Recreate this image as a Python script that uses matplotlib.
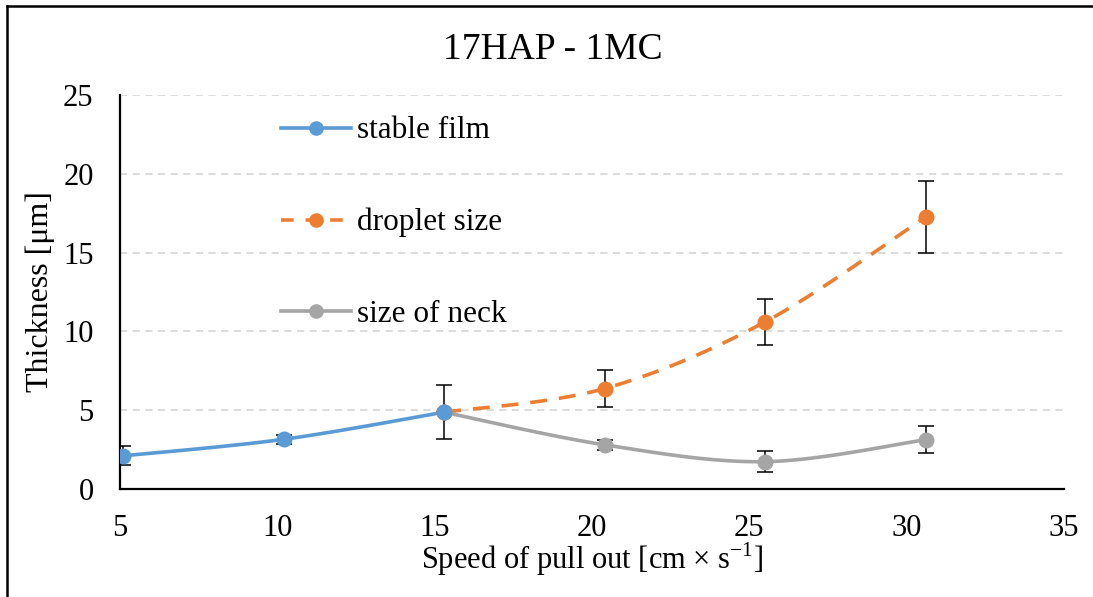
import numpy as np
import matplotlib
matplotlib.use("Agg")
import matplotlib.pyplot as plt
from matplotlib.lines import Line2D

plt.rcParams['font.family'] = ['Liberation Serif', 'DejaVu Serif']
plt.rcParams['mathtext.fontset'] = 'custom'
plt.rcParams['mathtext.rm'] = 'Liberation Serif'

# data
film_x = [5.1, 10.2, 15.3]
film_y = [2.1, 3.15, 4.87]
film_err = [0.6, 0.3, 1.73]

drop_x = [15.3, 20.4, 25.5, 30.6]
drop_y = [4.87, 6.37, 10.6, 17.25]
drop_err = [0.0, 1.2, 1.45, 2.3]

neck_x = [15.3, 20.4, 25.5, 30.6]
neck_y = [4.87, 2.8, 1.73, 3.12]
neck_err = [0.0, 0.3, 0.65, 0.85]

labels = ["stable film", "droplet size", "size of neck"]
colors = ["#5B9BD5", "#ED7D31", "#A5A5A5"]


def smooth(xs, ys, n=40):
    # Excel-like smoothed line (Bezier through the points)
    p = np.column_stack([xs, ys]).astype(float)
    pts = np.vstack([p[0], p, p[-1]])
    out = []
    for i in range(1, len(pts) - 2):
        p0, p1, p2, p3 = pts[i - 1], pts[i], pts[i + 1], pts[i + 2]
        c1 = p1 + (p2 - p0) / 6
        c2 = p2 - (p3 - p1) / 6
        t = np.linspace(0, 1, n)[:, None]
        seg = (1 - t) ** 3 * p1 + 3 * (1 - t) ** 2 * t * c1 + 3 * (1 - t) * t ** 2 * c2 + t ** 3 * p2
        out.append(seg)
    out = np.vstack(out)
    return out[:, 0], out[:, 1]


fig = plt.figure(figsize=(10.93, 5.97), dpi=100)
ax = fig.add_axes([0.1098, 0.181, 0.8637, 0.66])

# figure frame (top and left edges only, the rest is cropped)
fig.add_artist(Line2D([7 / 1093, 7 / 1093], [0, 1 - 6 / 597], transform=fig.transFigure, color="black", lw=1.8))
fig.add_artist(Line2D([7 / 1093, 1], [1 - 6 / 597, 1 - 6 / 597], transform=fig.transFigure, color="black", lw=1.8))

series = [
    (film_x, film_y, film_err, "-"),
    (drop_x, drop_y, drop_err, (0, (4.7, 3.3))),
    (neck_x, neck_y, neck_err, "-"),
]

# error bars
for xs, ys, errs, ls in series:
    ax.errorbar(xs, ys, yerr=errs, fmt="none", ecolor="black", elinewidth=1.1, capsize=6, capthick=1.1, zorder=2)

# lines and markers, draw droplet/neck first so the film marker sits on top
for i in [2, 1, 0]:
    xs, ys, errs, ls = series[i]
    sx, sy = smooth(xs, ys)
    ax.plot(sx, sy, color=colors[i], lw=2.6, ls=ls, zorder=3, solid_capstyle="round")
    ax.plot(xs, ys, "o", color=colors[i], ms=11.5, zorder=4, markeredgewidth=0)

handles = [Line2D([], [], color=colors[i], lw=2.6, ls=("-" if i != 1 else (0, (3.5, 3.3))),
                  marker="o", ms=10.5, markeredgewidth=0)
           for i in range(3)]
leg = ax.legend(handles, labels, loc="upper left", bbox_to_anchor=(0.154, 0.985), frameon=False,
                fontsize=22.5, handlelength=2.25, handletextpad=0.18, labelspacing=2.0, borderpad=0)

ax.set_xlim(5, 35)
ax.set_ylim(0, 25)
ax.set_xticks(range(5, 36, 5))
ax.set_yticks(range(0, 26, 5))
ax.tick_params(length=0, labelsize=22)
ax.tick_params(axis="x", pad=18)
ax.tick_params(axis="y", pad=19)
ax.grid(axis="y", color="#D9D9D9", ls=(0, (4, 3)), lw=1.3)
ax.set_axisbelow(True)
for s in ["top", "right"]:
    ax.spines[s].set_visible(False)
for s in ["left", "bottom"]:
    ax.spines[s].set_linewidth(1.6)

fig.text(553 / 1093, 1 - 50 / 597, "17HAP - 1MC", fontsize=27, ha="center", va="center")
ax.set_xlabel("Speed of pull out [cm \u00d7 s$^{\\mathrm{-1}}$]", fontsize=22, labelpad=-2)
ax.set_ylabel("Thickness [\u03bcm]", fontsize=23, labelpad=6)

fig.savefig("out.png", dpi=100)
